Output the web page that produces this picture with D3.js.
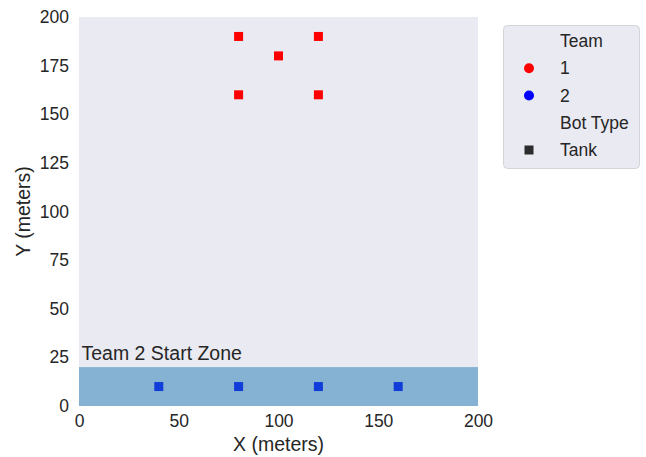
<!DOCTYPE html>
<html lang="en">
<head>
  <meta charset="UTF-8">
  <script src="https://cdn.jsdelivr.net/npm/d3@7"></script>
  <title>Bot positions</title>
  <style>
    body { margin: 0; background: #fff; }
    text { font-family: "Liberation Sans", Arial, sans-serif; fill: #262626; }
  </style>
</head>
<body>
  <div class="fig"></div>
  <script>
    // ---------------- data ----------------
    const team1X = [80, 120, 100, 80, 120];
    const team1Y = [190, 190, 180, 160, 160];
    const team2X = [40, 80, 120, 160];
    const team2Y = [10, 10, 10, 10];
    const xTicks = [0, 50, 100, 150, 200];
    const yTicks = [0, 25, 50, 75, 100, 125, 150, 175, 200];
    const zone = { x0: 0, x1: 200, y0: 0, y1: 20, label: "Team 2 Start Zone" };
    const legendItems = [
      { label: "Team", kind: "title" },
      { label: "1", kind: "circle", color: "#ff0000" },
      { label: "2", kind: "circle", color: "#0000ff" },
      { label: "Bot Type", kind: "title" },
      { label: "Tank", kind: "square", color: "#2c2c2c" }
    ];

    // ---------------- layout ----------------
    const width = 646, height = 457;
    const plot = { left: 79, right: 478, top: 17, bottom: 406 };
    const tickFont = 17.5, labelFont = 19.5;

    const svg = d3.select(".fig").append("svg")
      .attr("width", width)
      .attr("height", height);

    const x = d3.scaleLinear().domain([0, 200]).range([plot.left, plot.right]);
    const y = d3.scaleLinear().domain([0, 200]).range([plot.bottom, plot.top]);

    // plot background
    svg.append("rect")
      .attr("x", plot.left).attr("y", plot.top)
      .attr("width", plot.right - plot.left)
      .attr("height", plot.bottom - plot.top)
      .attr("fill", "#eaeaf2");

    const size = 9;
    const team1 = team1X.map((v, i) => ({ x: v, y: team1Y[i] }));
    const team2 = team2X.map((v, i) => ({ x: v, y: team2Y[i] }));

    svg.selectAll(".t1").data(team1).enter().append("rect")
      .attr("x", d => x(d.x) - size / 2).attr("y", d => y(d.y) - size / 2)
      .attr("width", size).attr("height", size)
      .attr("fill", "#ff0000");

    svg.selectAll(".t2").data(team2).enter().append("rect")
      .attr("x", d => x(d.x) - size / 2).attr("y", d => y(d.y) - size / 2)
      .attr("width", size).attr("height", size)
      .attr("fill", "#0000ff");

    // start zone drawn over, half transparent
    svg.append("rect")
      .attr("x", x(zone.x0)).attr("y", y(zone.y1))
      .attr("width", x(zone.x1) - x(zone.x0))
      .attr("height", y(zone.y0) - y(zone.y1))
      .attr("fill", "#1f77b4").attr("fill-opacity", 0.5);

    svg.append("text")
      .attr("x", x(zone.x0) + 2.5).attr("y", y(zone.y1) - 7)
      .attr("font-size", labelFont)
      .text(zone.label);

    // axes
    const xAxis = svg.append("g")
      .attr("transform", `translate(0,${plot.bottom})`)
      .call(d3.axisBottom(x).tickValues(xTicks).tickSize(0).tickPadding(9));
    const yAxis = svg.append("g")
      .attr("transform", `translate(${plot.left},0)`)
      .call(d3.axisLeft(y).tickValues(yTicks).tickSize(0).tickPadding(10));
    [xAxis, yAxis].forEach(a => {
      a.select(".domain").remove();
      a.selectAll("text").attr("font-size", tickFont).attr("fill", "#262626")
        .style("font-family", '"Liberation Sans", Arial, sans-serif');
    });

    svg.append("text")
      .attr("x", (plot.left + plot.right) / 2).attr("y", 451)
      .attr("text-anchor", "middle").attr("font-size", labelFont)
      .text("X (meters)");
    svg.append("text")
      .attr("transform", `translate(30,${(plot.top + plot.bottom) / 2}) rotate(-90)`)
      .attr("text-anchor", "middle").attr("font-size", labelFont)
      .text("Y (meters)");

    // legend
    const lg = svg.append("g").attr("transform", "translate(503,25)");
    lg.append("rect")
      .attr("x", 0.5).attr("y", 0.5).attr("width", 136).attr("height", 143)
      .attr("rx", 4)
      .attr("fill", "#eaeaf2").attr("stroke", "#d4d4d8");
    const rowY = d3.scalePoint().domain(d3.range(legendItems.length)).range([16, 125]);
    const rows = lg.selectAll(".row").data(legendItems).enter().append("g")
      .attr("transform", (d, i) => `translate(0,${rowY(i)})`);
    rows.filter(d => d.kind === "circle").append("circle")
      .attr("cx", 26).attr("cy", 0).attr("r", 5).attr("fill", d => d.color);
    rows.filter(d => d.kind === "square").append("rect")
      .attr("x", 21.5).attr("y", -4.5).attr("width", 9).attr("height", 9)
      .attr("fill", d => d.color);
    rows.append("text")
      .attr("x", 57)
      .attr("y", 0).attr("dy", "0.35em")
      .attr("font-size", tickFont)
      .text(d => d.label);
  </script>
</body>
</html>
